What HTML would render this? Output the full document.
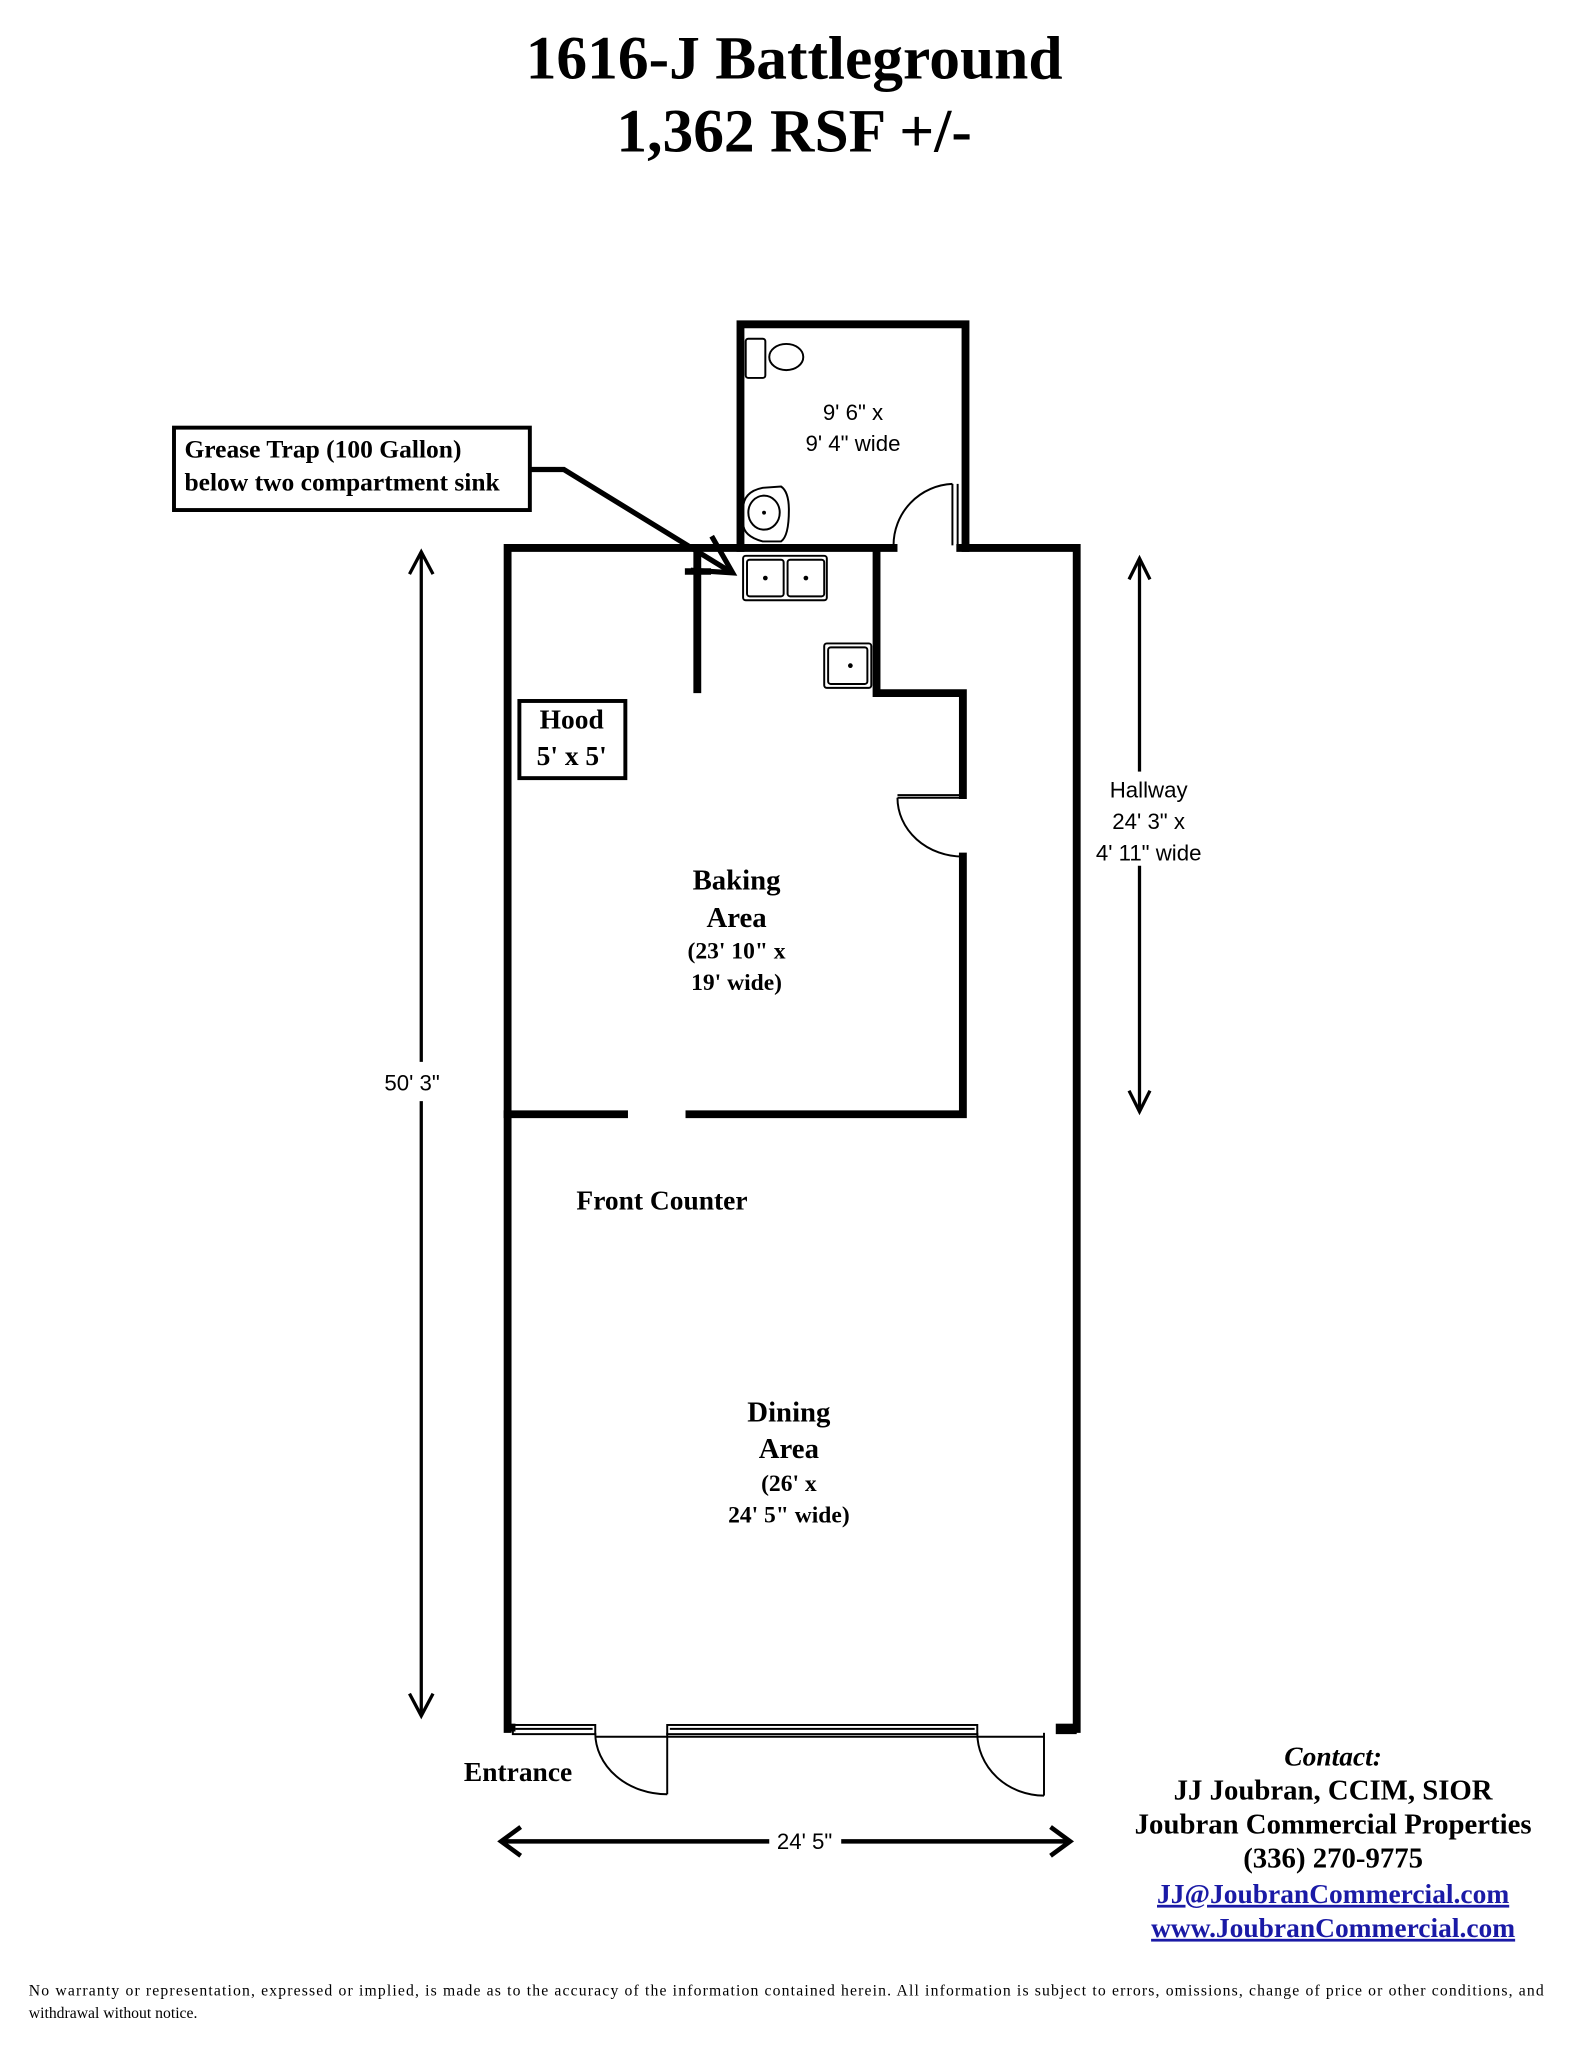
<!DOCTYPE html>
<html><head><meta charset="utf-8"><style>
html,body{margin:0;padding:0;background:#fff;}
svg{display:block;}
.t{font-family:"Liberation Serif",serif;font-weight:bold;fill:#000;}
.s{font-family:"Liberation Sans",sans-serif;fill:#000;}
</style></head><body>
<svg width="1583" height="2048" viewBox="0 0 1210 1566" preserveAspectRatio="none" xmlns="http://www.w3.org/2000/svg">
<rect width="1210" height="1566" fill="#fff"/>
<text class="t" x="607" y="60" font-size="47" text-anchor="middle">1616-J Battleground</text>
<text class="t" x="607" y="116" font-size="47" text-anchor="middle">1,362 RSF +/-</text>

<g stroke="#000" stroke-width="6" fill="none" stroke-linecap="square">
<path d="M566 419 V248 H738 V419"/>
<path d="M683 419 H388 V1322"/>
<path d="M734 419 H823 V1322"/>
<path d="M670 419 V530 H736 V608"/>
<path d="M736 655 V852 H527"/>
<path d="M388 852 H477"/>
<path d="M533 419 V527"/>
<path d="M526 437 H541" stroke-width="5"/>
</g>
<g stroke="#000" stroke-width="1.5" fill="none">
<path d="M728 370 V417"/><path d="M732 370 V417"/>
<path d="M683 417 A47 47 0 0 1 728 370"/>
<path d="M686 608 H736"/><path d="M686 610 H736"/>
<path d="M686 610 A50 45 0 0 0 736 655"/>
<rect x="570" y="259" width="15" height="30" rx="2"/>
<ellipse cx="601" cy="273" rx="13" ry="10"/>
<path d="M568 389 Q568 376 583 373 L597 372 Q603 376 603 390 Q603 410 597 414 L583 414 Q568 410 568 400 Z"/>
<ellipse cx="584" cy="392" rx="12" ry="13"/>
<rect x="568" y="425" width="64" height="34" rx="2"/>
<rect x="571" y="428" width="28" height="28" rx="2"/>
<rect x="602" y="428" width="28" height="28" rx="2"/>
<rect x="630" y="492" width="36" height="34" rx="2"/>
<rect x="633" y="495" width="30" height="28" rx="2"/>
<rect x="392" y="1319" width="63" height="7"/>
<rect x="510" y="1319" width="237" height="7"/>
<line x1="394" y1="1322" x2="453" y2="1322"/>
<line x1="512" y1="1322" x2="745" y2="1322"/>
<line x1="455" y1="1328" x2="798" y2="1328"/>
<path d="M510 1325 V1372"/>
<path d="M455 1325 A55 47 0 0 0 510 1372"/>
<path d="M798 1325 V1373"/>
<path d="M747 1325 A51 48 0 0 0 798 1373"/>
</g>
<g fill="#000">
<circle cx="585" cy="442" r="1.8"/><circle cx="616" cy="442" r="1.8"/><circle cx="650" cy="509" r="1.8"/><circle cx="584" cy="392" r="1.5"/>
<rect x="388" y="1318" width="6" height="6"/><rect x="807" y="1318" width="16" height="8"/>
</g>

<rect x="133" y="327" width="272" height="63" fill="#fff" stroke="#000" stroke-width="3"/>
<text class="t" x="141" y="350" font-size="19.5">Grease Trap (100 Gallon)</text>
<text class="t" x="141" y="375" font-size="19.5">below two compartment sink</text>
<path d="M405 359 H431 L558 437" stroke="#000" stroke-width="4" fill="none"/>
<path d="M544 410 L560 438 L528 436" stroke="#000" stroke-width="4" fill="none"/>

<rect x="397" y="536" width="81" height="59" fill="#fff" stroke="#000" stroke-width="3"/>
<text class="t" x="437" y="557" font-size="21" text-anchor="middle">Hood</text>
<text class="t" x="437" y="585" font-size="21" text-anchor="middle">5' x 5'</text>

<text class="s" x="652" y="321" font-size="17" text-anchor="middle">9' 6" x</text>
<text class="s" x="652" y="345" font-size="17" text-anchor="middle">9' 4" wide</text>

<g stroke="#000" fill="none" stroke-width="2.5">
<path d="M871 427 V850"/><path d="M863 443 L871 427 L879 443"/><path d="M863 834 L871 850 L879 834"/>
<path d="M322 422 V812"/><path d="M322 842 V1312"/><path d="M313 439 L322 422 L331 439"/><path d="M313 1295 L322 1312 L331 1295"/>
</g>
<rect x="830" y="590" width="98" height="72" fill="#fff"/>
<text class="s" x="878" y="610" font-size="17" text-anchor="middle">Hallway</text>
<text class="s" x="878" y="634" font-size="17" text-anchor="middle">24' 3" x</text>
<text class="s" x="878" y="658" font-size="17" text-anchor="middle">4' 11" wide</text>
<text class="s" x="315" y="834" font-size="17" text-anchor="middle">50' 3"</text>

<text class="t" x="563" y="680" font-size="22" text-anchor="middle">Baking</text>
<text class="t" x="563" y="709" font-size="22" text-anchor="middle">Area</text>
<text class="t" x="563" y="733" font-size="18" text-anchor="middle">(23' 10" x</text>
<text class="t" x="563" y="757" font-size="18" text-anchor="middle">19' wide)</text>

<text class="t" x="506" y="925" font-size="21" text-anchor="middle">Front Counter</text>

<text class="t" x="603" y="1087" font-size="22" text-anchor="middle">Dining</text>
<text class="t" x="603" y="1115" font-size="22" text-anchor="middle">Area</text>
<text class="t" x="603" y="1140" font-size="18" text-anchor="middle">(26' x</text>
<text class="t" x="603" y="1164" font-size="18" text-anchor="middle">24' 5" wide)</text>

<text class="t" x="396" y="1362" font-size="21" text-anchor="middle">Entrance</text>

<g stroke="#000" fill="none" stroke-width="3.5">
<path d="M383 1408 H588"/><path d="M643 1408 H818"/>
<path d="M398 1397 L383 1408 L398 1419"/><path d="M803 1397 L818 1408 L803 1419"/>
</g>
<text class="s" x="615" y="1414" font-size="17" text-anchor="middle">24' 5"</text>

<text class="t" x="1019" y="1350" font-size="21" font-style="italic" text-anchor="middle">Contact:</text>
<text class="t" x="1019" y="1376" font-size="22" text-anchor="middle">JJ Joubran, CCIM, SIOR</text>
<text class="t" x="1019" y="1402" font-size="22" text-anchor="middle">Joubran Commercial Properties</text>
<text class="t" x="1019" y="1428" font-size="22" text-anchor="middle">(336) 270-9775</text>
<text class="t" x="1019" y="1455" font-size="21" text-anchor="middle" style="fill:#1a1aa6" text-decoration="underline">JJ@JoubranCommercial.com</text>
<text class="t" x="1019" y="1481" font-size="21" text-anchor="middle" style="fill:#1a1aa6" text-decoration="underline">www.JoubranCommercial.com</text>

<text x="22" y="1526" font-size="12" font-family="Liberation Serif, serif" textLength="1158" lengthAdjust="spacing">No warranty or representation, expressed or implied, is made as to the accuracy of the information contained herein.  All information is subject to errors, omissions, change of price or other conditions, and</text>
<text x="22" y="1543" font-size="12" font-family="Liberation Serif, serif">withdrawal without notice.</text>
</svg>
</body></html>
